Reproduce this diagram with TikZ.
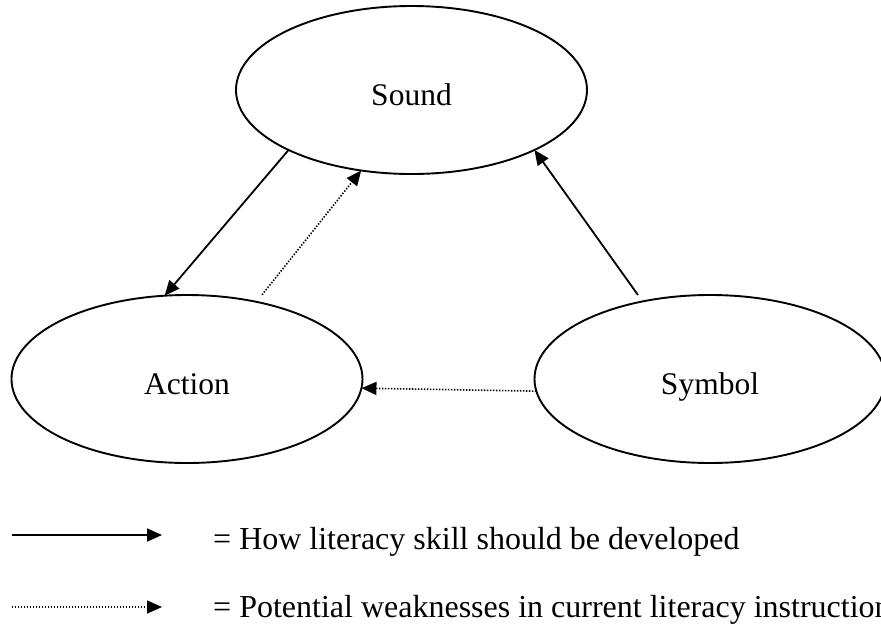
\documentclass[tikz,border=0pt]{standalone}
\usepackage{fontspec}
\setmainfont{Liberation Serif}
\usetikzlibrary{arrows.meta,shapes.geometric}
\begin{document}
\begin{tikzpicture}[x=1pt,y=-1pt,
  oval/.style={draw, ellipse, line width=1.9pt, minimum width=351pt, minimum height=168pt,
    inner sep=0pt, outer sep=0pt, text height=30pt, text depth=0pt,
    font=\fontsize{31.5}{37}\selectfont},
  tipstyle/.style={-{Triangle[length=15pt,width=13pt]}},
  solidarrow/.style={line width=1.8pt, tipstyle},
  dotarrow/.style={line width=1.6pt, dash pattern=on 1.4pt off 1.6pt, tipstyle},
  legendtext/.style={anchor=base west, inner sep=0pt, font=\fontsize{32}{38}\selectfont}]
\useasboundingbox (0,0) rectangle (881,632);
\clip (0,0) rectangle (881,632);

\node[oval] (sound) at (411.5,90) {Sound};
\node[oval] (action) at (187,379) {Action};
\node[oval] (symbol) at (710,379) {Symbol};

\draw[solidarrow] (sound.206.5) -- (action.105.6);
\draw[dotarrow, shorten <=9pt] (action.48.2) -- (sound.238.8);
\draw[solidarrow, shorten <=8pt] (symbol.131.4) -- (sound.-26.3);
\draw[dotarrow] (symbol.184) -- (action.-3.9);

\coordinate (l1s) at (12,535);
\coordinate (l1e) at (162,535);
\coordinate (l2s) at (12,607);
\coordinate (l2e) at (162,607);
\draw[solidarrow] (l1s) -- (l1e);
\draw[dotarrow] (l2s) -- (l2e);

\node[legendtext] (t1) at (213,549) {= How literacy skill should be developed};
\node[legendtext] (t2) at (213,617) {= Potential weaknesses in current literacy instruction};
\end{tikzpicture}
\end{document}
